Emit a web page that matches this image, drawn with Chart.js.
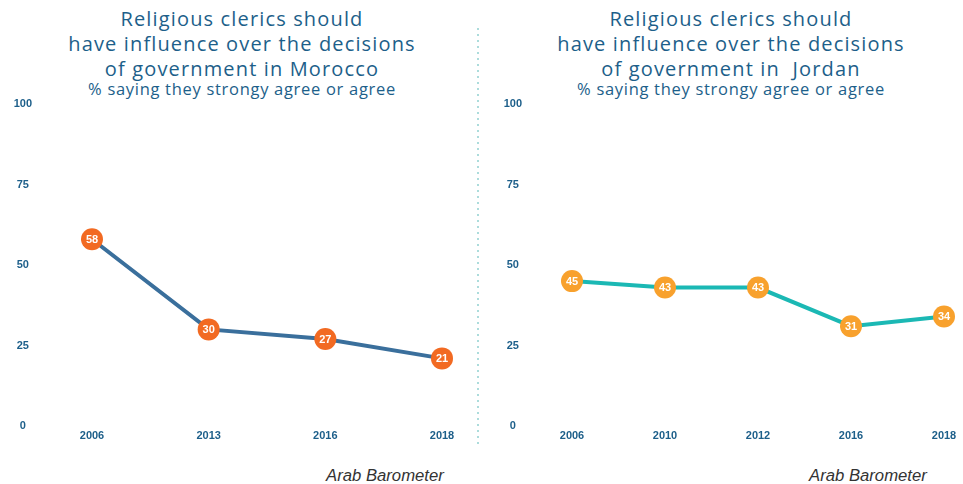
<!DOCTYPE html>
<html>
<head>
<meta charset="utf-8">
<script src="https://cdn.jsdelivr.net/npm/chart.js@4.4.1/dist/chart.umd.min.js"></script>
<style>
  html, body { margin: 0; padding: 0; background: #fff; }
  body { width: 963px; height: 484px; position: relative; overflow: hidden; }
  .title { position: absolute; top: 6px; width: 480px; text-align: center; color: #1d5f8a;
           font-family: "Open Sans", sans-serif; font-size: 20px; line-height: 25px; font-weight: 500;
           letter-spacing: 1.15px; }
  .sub { position: absolute; top: 79px; width: 480px; text-align: center; color: #1d5f8a;
         font-family: "Open Sans", sans-serif; font-size: 16.5px; line-height: 20px; letter-spacing: 0.7px; }
  .source { position: absolute; top: 466px; font-family: "Liberation Sans", Arial, sans-serif;
            font-style: italic; font-size: 16.7px; color: #333; }
  .divider { position: absolute; left: 477px; top: 28px; width: 2px; height: 420px;
             background: repeating-linear-gradient(to bottom, #acdcdc 0 2px, transparent 2px 6px); }
  canvas { position: absolute; top: 0; }
</style>
</head>
<body>
<div class="title" style="left:2px">Religious clerics should<br>have influence over the decisions<br>of government in Morocco</div>
<div class="sub" style="left:2px">% saying they strongy agree or agree</div>
<div class="title" style="left:491px">Religious clerics should<br>have influence over the decisions<br>of government in&nbsp; Jordan</div>
<div class="sub" style="left:491px">% saying they strongy agree or agree</div>
<div class="divider"></div>
<div class="source" style="left:326px">Arab Barometer</div>
<div class="source" style="left:809px">Arab Barometer</div>

<canvas id="morocco" width="478" height="484" style="left:0;width:478px;height:484px"></canvas>
<canvas id="jordan" width="483" height="484" style="left:480px;width:483px;height:484px"></canvas>

<script>
// Survey waves and shares (%) agreeing clerics should influence government
const moroccoYears = ['2006', '2013', '2016', '2018'];
const moroccoValues = [58, 30, 27, 21];
const jordanYears = ['2006', '2010', '2012', '2016', '2018'];
const jordanValues = [45, 43, 43, 31, 34];
const yTicks = [0, 25, 50, 75, 100];

const TICK_COLOR = '#1d5f8a';
const tickFont = { family: '"Liberation Sans", Arial, sans-serif', size: 11, weight: 'bold' };

// Writes each point's value in white inside its marker
const valueLabels = {
  id: 'valueLabels',
  afterDatasetsDraw(chart) {
    const ctx = chart.ctx;
    chart.data.datasets.forEach((ds, i) => {
      chart.getDatasetMeta(i).data.forEach((pt, j) => {
        ctx.save();
        ctx.fillStyle = '#fff';
        ctx.font = 'bold 11px "Liberation Sans", Arial, sans-serif';
        ctx.textAlign = 'center';
        ctx.textBaseline = 'middle';
        ctx.fillText(String(ds.data[j]), pt.x, pt.y + 0.5);
        ctx.restore();
      });
    });
  }
};

function makeChart(id, years, values, lineColor, pointColor, yLabelPad, padRight) {
  return new Chart(document.getElementById(id), {
    type: 'line',
    data: {
      labels: years,
      datasets: [{
        data: values,
        borderColor: lineColor,
        borderWidth: 4,
        backgroundColor: pointColor,
        pointBackgroundColor: pointColor,
        pointBorderColor: pointColor,
        pointBorderWidth: 0,
        pointRadius: 11,
        pointHoverRadius: 11,
        tension: 0,
        clip: false
      }]
    },
    options: {
      responsive: false,
      animation: false,
      events: [],
      layout: { padding: { top: 104, bottom: 38, left: 0, right: padRight } },
      plugins: { legend: { display: false }, tooltip: { enabled: false }, title: { display: false } },
      scales: {
        x: {
          offset: false,
          grid: { display: false, drawTicks: false },
          border: { display: false },
          ticks: { color: TICK_COLOR, font: tickFont, padding: 3, maxRotation: 0, autoSkip: false },
          afterFit: s => { s.height = 20; }
        },
        y: {
          min: 0, max: 100,
          grid: { display: false, drawTicks: false },
          border: { display: false },
          afterBuildTicks: s => { s.ticks = yTicks.map(v => ({ value: v })); },
          ticks: { color: TICK_COLOR, font: tickFont, padding: yLabelPad, crossAlign: 'center' },
          // fixed axis width; keep the wide label gap from padding the plot vertically
          afterFit: s => { s.width = 92; s.paddingTop = 6; s.paddingBottom = 6; }
        }
      }
    },
    plugins: [valueLabels]
  });
}

makeChart('morocco', moroccoYears, moroccoValues, '#3a6f9c', '#f26a22', 60, 36);
makeChart('jordan', jordanYears, jordanValues, '#1bb8b4', '#f8a12d', 50, 19);
</script>
</body>
</html>
